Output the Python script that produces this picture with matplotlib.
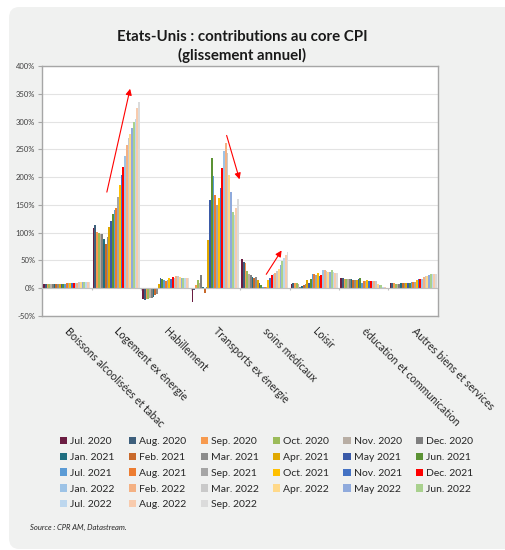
import numpy as np
import matplotlib
matplotlib.use("Agg")
import matplotlib.pyplot as plt
from matplotlib.patches import FancyBboxPatch
from matplotlib.ticker import FuncFormatter

plt.rcParams["font.family"] = ["Lato", "DejaVu Sans"]

categories = ["Boissons alcoolisées et tabac", "Logement ex énergie", "Habillement",
              "Transports ex énergie", "soins médicaux", "Loisir",
              "éducation et communication", "Autres biens et services"]

months = ["Jul. 2020", "Aug. 2020", "Sep. 2020", "Oct. 2020", "Nov. 2020", "Dec. 2020",
          "Jan. 2021", "Feb. 2021", "Mar. 2021", "Apr. 2021", "May 2021", "Jun. 2021",
          "Jul. 2021", "Aug. 2021", "Sep. 2021", "Oct. 2021", "Nov. 2021", "Dec. 2021",
          "Jan. 2022", "Feb. 2022", "Mar. 2022", "Apr. 2022", "May 2022", "Jun. 2022",
          "Jul. 2022", "Aug. 2022", "Sep. 2022"]

colors = ["#6b1d42", "#3d5f7c", "#f79a4e", "#9bbb59", "#b8aea4", "#7f7f7f",
          "#1f6e80", "#c8692b", "#8c8c8c", "#e0a800", "#3a5aa8", "#5b9234",
          "#5b9bd5", "#ed7d31", "#a5a5a5", "#ffc000", "#4472c4", "#ff0000",
          "#9dc3e6", "#f4b183", "#c9c9c9", "#ffd98a", "#8faadc", "#a9d18e",
          "#bdd7ee", "#f8cbad", "#dbdbdb"]

# values in % per category, one per month (Jul 2020 .. Sep 2022)
boissons = [7, 7, 7, 8, 8, 8, 8, 8, 8, 8, 8, 8, 8, 9, 9, 9, 9, 10, 10, 10, 11, 11, 11, 11, 12, 12, 12]
logement = [109, 113, 101, 99, 98, 97, 88, 79, 92, 110, 121, 133, 140, 144, 164, 186, 203, 219,
            238, 258, 271, 278, 288, 299, 305, 325, 336]
habillement = [-20, -21, -20, -19, -18, -17, -15, -13, -10, 7, 19, 17, 15, 13, 14, 18, 17, 21,
               18, 22, 22, 20, 18, 18, 18, 18, 18]
transports = [-25, -3, 6, 15, 10, 24, 3, -8, 2, 86, 158, 235, 202, 167, 149, 163, 180, 217,
              247, 261, 243, 204, 173, 137, 131, 144, 161]
soins = [53, 47, 45, 31, 26, 23, 20, 19, 21, 14, 10, 5, 2, 3, 3, 14, 18, 24,
         26, 28, 31, 35, 41, 49, 54, 59, 65]
loisir = [8, 9, 10, 9, 8, 3, 4, 6, 8, 14, 10, 17, 25, 25, 23, 27, 22, 23,
          33, 33, 31, 29, 30, 32, 29, 28, 27]
education = [18, 18, 17, 17, 16, 17, 16, 14, 15, 14, 16, 18, 10, 13, 13, 14, 13, 13,
             13, 13, 13, 8, 6, 5, 3, 2, 1]
autres = [10, 9, 9, 8, 7, 8, 9, 9, 9, 10, 10, 10, 11, 11, 12, 14, 16, 17,
          17, 20, 22, 22, 24, 25, 25, 26, 26]

data = np.array([boissons, logement, habillement, transports, soins, loisir, education, autres])

fig = plt.figure(figsize=(5.06, 5.5), dpi=100)
fig.patch.set_facecolor("white")
fig.patches.append(FancyBboxPatch((9 / 506, 1 / 550), 1.2, 542 / 550,
                                  boxstyle="round,pad=0,rounding_size=0.02",
                                  transform=fig.transFigure, facecolor="#f0f1f0",
                                  edgecolor="none", zorder=-10))

ax = fig.add_axes([42 / 506, 234 / 550, 396 / 506, 250 / 550])
ax.set_facecolor("white")

n_cat, n_ser = len(categories), len(months)
x = np.arange(n_cat)
group_w = 0.95
bw = group_w / n_ser
for j in range(n_ser):
    ax.bar(x - group_w / 2 + (j + 0.5) * bw, data[:, j], width=bw,
           color=colors[j], label=months[j], linewidth=0, zorder=3)

ax.set_xlim(-0.5, n_cat - 0.5)
ax.set_ylim(-50, 400)
ax.set_yticks(np.arange(-50, 401, 50))
ax.yaxis.set_major_formatter(FuncFormatter(lambda v, p: f"{v:.0f}%"))
ax.grid(axis="y", color="#e3e3e3", lw=0.8, zorder=0)
ax.axhline(0, color="#bfbfbf", lw=0.8, zorder=4)
ax.vlines(x[1:] - 0.5, -3, 0, color="#bfbfbf", lw=0.8, zorder=4)
for s in ax.spines.values():
    s.set_color("#a6a6a6")
    s.set_linewidth(1.0)
ax.tick_params(axis="y", labelsize=5.5, length=3, color="#a6a6a6",
               labelcolor="#404040", pad=2)
ax.set_xticks(x)
ax.set_xticklabels(categories, rotation=-45, ha="left", va="center",
                   rotation_mode="anchor", fontsize=7.7, color="#262626")
ax.tick_params(axis="x", length=0, pad=9.5)

arrow = dict(arrowstyle="-|>", color="red", lw=0.8, mutation_scale=9,
             shrinkA=0, shrinkB=0)
ax.annotate("", xy=(1.28, 359), xytext=(0.81, 173), arrowprops=arrow, zorder=6)
ax.annotate("", xy=(3.49, 196), xytext=(3.23, 275), arrowprops=arrow, zorder=6)
ax.annotate("", xy=(4.34, 68), xytext=(4.03, 25), arrowprops=arrow, zorder=6)

fig.text(242 / 506, 1 - 37 / 550, "Etats-Unis : contributions au core CPI",
         ha="center", va="center", fontsize=10.8, fontweight="bold", color="#1a1a1a")
fig.text(242 / 506, 1 - 55 / 550, "(glissement annuel)",
         ha="center", va="center", fontsize=10.8, fontweight="bold", color="#1a1a1a")

handles, labels = ax.get_legend_handles_labels()
order = [c + 6 * r for c in range(6) for r in range(5) if c + 6 * r < n_ser]
leg = fig.legend([handles[i] for i in order], [labels[i] for i in order],
                 ncol=6, loc="upper left", bbox_to_anchor=(60 / 506, 1 - 437 / 550),
                 frameon=False, fontsize=7.5, handlelength=0.7,
                 handleheight=0.7, handletextpad=0.3, labelspacing=0.62,
                 columnspacing=1.35, borderaxespad=0, borderpad=0)
for t in leg.get_texts():
    t.set_color("#262626")

fig.text(30 / 506, 1 - 527 / 550, "Source : CPR AM, Datastream.", fontsize=5.5,
         style="italic", color="#262626", va="center")

fig.savefig("out.png", dpi=100, facecolor=fig.get_facecolor())
